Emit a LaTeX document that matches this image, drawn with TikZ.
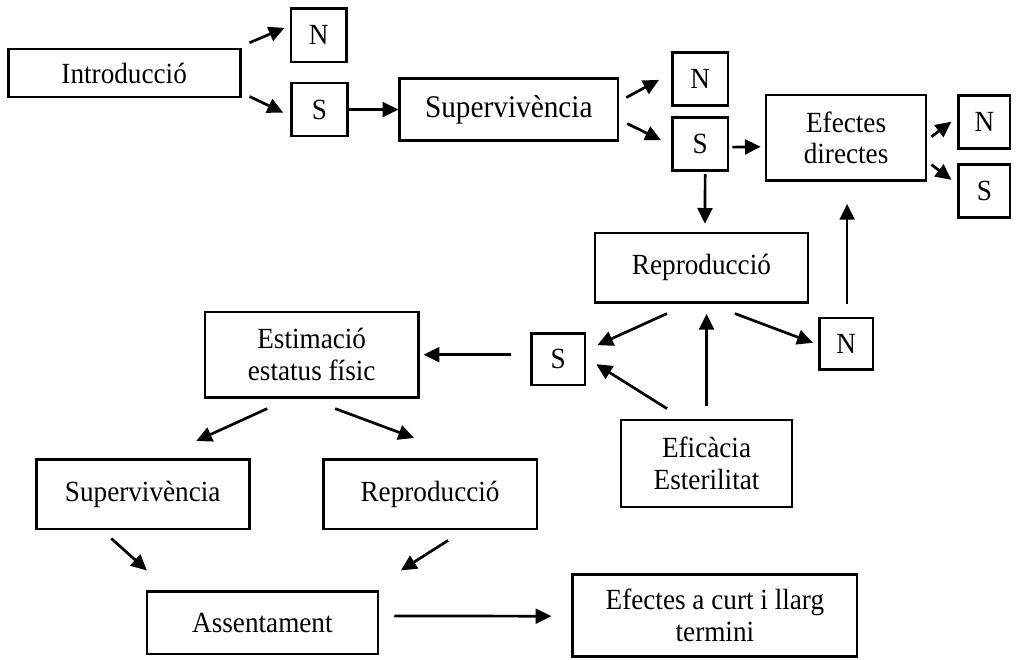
\documentclass[tikz,border=0pt]{standalone}
\usepackage{fontspec}
\setmainfont{Liberation Serif}[FakeStretch=0.93]
\usetikzlibrary{arrows.meta,calc}

\begin{document}
\begin{tikzpicture}[line width = 1.2pt,
								box/.style = {rectangle, draw, inner sep = 0pt,
								align = center, font = \fontsize{13}{14}\selectfont},
								yn/.style = {box, minimum width = 0.87cm,
								minimum height = 0.83cm},
								arr/.style = {-{Triangle[length=7pt,width=6.6pt]}}]
				\useasboundingbox (0,0) rectangle (15.875,10.3125);

				% primera fila
				\node [box, minimum width = 3.625cm, minimum height = 0.75cm] (intro) at (1.94,9.17) {Introducció};
				\node [yn] (n_1) at (4.98,9.76) {N};
				\node [yn] (s_1) at (4.99,8.6) {S};
				\node [box, minimum width = 3.41cm, minimum height = 0.97cm,
				font = \fontsize{14}{15}\selectfont] (surv) at (7.95,8.6) {Supervivència};
				\node [yn] (n_2) at (10.94,9.08) {N};
				\node [yn] (s_2) at (10.94,8.06) {S};
				\node [box, minimum width = 2.5cm, minimum height = 1.34cm] (efd) at (13.22,8.16) {Efectes\\directes};
				\node [yn, minimum width = 0.8cm] (n_3) at (15.38,8.41) {N};
				\node [yn, minimum width = 0.8cm] (s_3) at (15.38,7.33) {S};

				\draw [arr] ($(intro.north east)+(0.125,0.078)$) -- ($(n_1.west)+(-0.078,0.117)$);
				\draw [arr] ($(intro.south east)+(0.125,0.031)$) -- ($(s_1.west)+(-0.109,-0.047)$);
				\draw [arr] (s_1) -- (surv);
				\draw [arr] ($(surv.east)+(0.109,0.188)$) -- ($(n_2.west)+(-0.188,-0.016)$);
				\draw [arr] ($(surv.east)+(0.125,-0.219)$) -- ($(s_2.west)+(-0.156,0.063)$);
				\draw [arr] ($(s_2.east)+(0.047,-0.047)$) -- ($(efd.west)+(-0.063,-0.14)$);
				\draw [arr] ($(efd.east)+(0.063,0.016)$) -- ($(n_3.west)+(-0.094,0)$);
				\draw [arr] ($(efd.east)+(0.063,-0.42)$) -- ($(s_3.west)+(-0.094,0.172)$);

				% reproduccio
				\node [box, minimum width = 3.33cm, minimum height = 1.08cm] (repro) at (10.96,6.13) {Reproducció};
				\node [yn, minimum width = 0.84cm, minimum height = 0.81cm] (s_4) at (8.72,4.7) {S};
				\node [yn, minimum width = 0.84cm, minimum height = 0.81cm] (n_4) at (13.22,4.94) {N};
				\node [box, minimum width = 3.33cm, minimum height = 1.33cm] (estim) at (4.87,4.77) {Estimació\\estatus físic};
				\node [box, minimum width = 2.67cm, minimum height = 1.36cm] (efic) at (11.04,3.07) {Eficàcia\\Esterilitat};

				\draw [arr] ($(s_2.south)+(0.078,-0.031)$) -- ($(repro.north)+(0.055,0.125)$);
				\draw [arr] ($(n_4.north)+(0.016,0.203)$) -- ($(efd.south)+(0.016,-0.344)$);
				\draw [arr] ($(repro.south)+(-0.539,-0.156)$) -- ($(s_4.east)+(0.172,0.219)$);
				\draw [arr] ($(repro.south)+(0.523,-0.156)$) -- ($(n_4.west)+(-0.078,0.016)$);
				\draw [arr] ($(efic.north)+(-0.617,0.156)$) -- ($(s_4.east)+(0.156,-0.078)$);
				\draw [arr] ($(efic.north)+(0,0.19)$) -- ($(repro.south -| efic.north)+(0,-0.16)$);
				\draw [arr] ($(s_4.west)+(-0.3,0.07)$) -- ($(estim.east)+(0.063,0)$);

				% estimacio
				\node [box, minimum width = 3.33cm, minimum height = 1.09cm] (surv_2) at (2.23,2.59) {Supervivència};
				\node [box, minimum width = 3.34cm, minimum height = 1.09cm] (repro_2) at (6.72,2.59) {Reproducció};
				\node [box, minimum width = 3.61cm, minimum height = 0.97cm] (assent) at (4.1,0.58) {Assentament};
				\node [box, minimum width = 4.44cm, minimum height = 1.28cm] (efcurt) at (11.17,0.7) {Efectes a curt i llarg\\termini};

				\draw [arr] ($(estim.south)+(-0.695,-0.156)$) -- ($(surv_2.north)+(0.836,0.266)$);
				\draw [arr] ($(estim.south)+(0.367,-0.156)$) -- ($(repro_2.north)+(-0.25,0.313)$);
				\draw [arr] ($(surv_2.south)+(-0.492,-0.125)$) -- ($(assent.north)+(-1.805,0.313)$);
				\draw [arr] ($(repro_2.south)+(0.281,-0.156)$) -- ($(assent.north)+(2.164,0.313)$);
				\draw [arr] ($(assent.east)+(0.234,0.109)$) -- ($(efcurt.west)+(-0.313,-0.016)$);
			\end{tikzpicture}
\end{document}
